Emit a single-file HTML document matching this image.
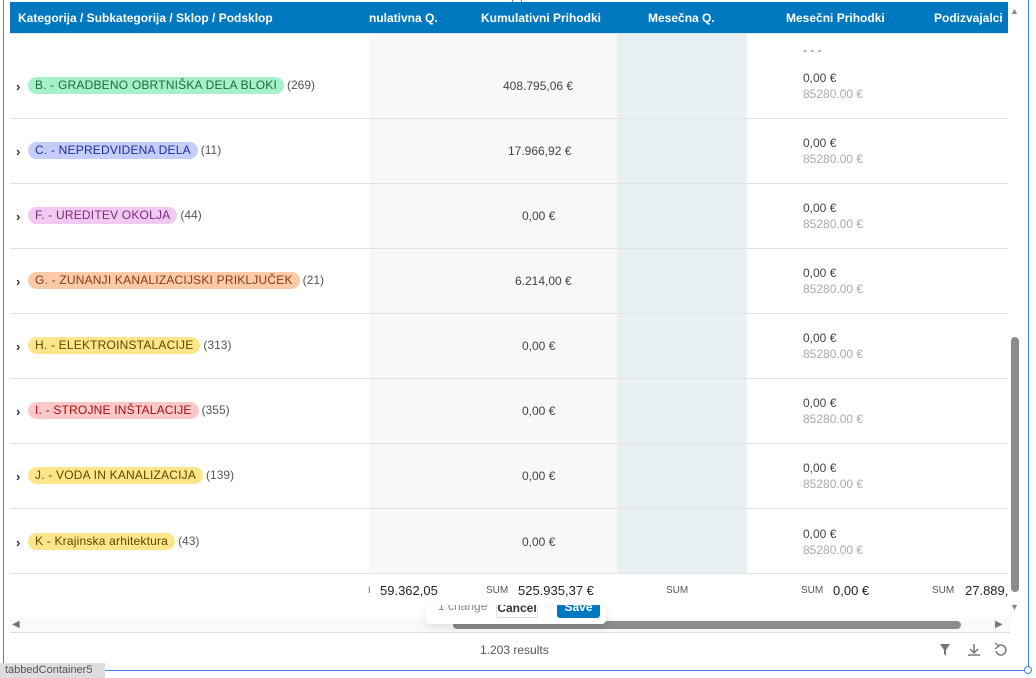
<!DOCTYPE html>
<html><head><meta charset="utf-8"><style>
*{margin:0;padding:0;box-sizing:border-box}
body{width:1036px;height:678px;background:#fff;font-family:"Liberation Sans",sans-serif;position:relative;overflow:hidden;color:#333}
.a{position:absolute}
.hd{background:#0078bf;color:#fff;font-weight:bold;font-size:12px}
.row{position:absolute;left:10px;width:998px;height:65px;border-bottom:1px solid #e2e2e2}
.lab{position:absolute;left:28px;white-space:nowrap;font-size:12px;line-height:17px}
.badge{display:inline-block;height:17px;border-radius:9px;font-size:12px;line-height:17px;padding:0 7px;letter-spacing:0.2px}
.cnt{font-size:12px;color:#555;margin-left:3px}
.val{font-size:12px;color:#444}
.sub{font-size:12px;color:#aaa}
.chev{position:absolute;left:16px;font-size:13px;font-weight:bold;color:#333;line-height:13px}
</style></head><body>
<div class="a" style="left:3px;top:0;width:1026px;height:671px;border:1px solid #3b82f6;border-top:none"></div>
<div class="a" style="left:0;top:663px;width:105px;height:15px;background:#ddd;font-size:11px;color:#555;line-height:15px;padding-left:5px">tabbedContainer5</div>
<div class="a" style="left:1024px;top:666px;width:8px;height:8px;border:1px solid #3b82f6;border-radius:50%;background:#fff"></div>
<div class="a" style="left:512px;top:-4px;width:10px;height:10px;border:1px solid #3b82f6;border-radius:50%;background:#fff"></div>

<div class="a" style="left:369px;top:33px;width:248px;height:540px;background:#f8f8f8"></div>
<div class="a" style="left:617px;top:33px;width:130px;height:540px;background:#e9f0f4"></div>

<div class="a hd" style="left:10px;top:2px;width:998px;height:31px"></div>
<div class="a hd" style="left:18px;top:11px;background:none">Kategorija / Subkategorija / Sklop / Podsklop</div>
<div class="a hd" style="left:369px;top:11px;background:none">nulativna Q.</div>
<div class="a hd" style="left:481px;top:11px;background:none">Kumulativni Prihodki</div>
<div class="a hd" style="left:648px;top:11px;background:none">Mesečna Q.</div>
<div class="a hd" style="left:786px;top:11px;background:none">Mesečni Prihodki</div>
<div class="a hd" style="left:934px;top:11px;background:none">Podizvajalci</div>
<div class="a" style="left:10px;top:33px;width:998px;height:1px;background:#dfe6ea"></div>

<div class="a sub" style="left:803px;top:43px;color:#666">- - -</div>

<div class="row" style="top:33px;height:86px"></div>
<div class="chev" style="top:80px">›</div>
<div class="lab" style="top:77px"><span class="badge" style="background:#a7f0c9;color:#1d6b40">B. - GRADBENO OBRTNIŠKA DELA BLOKI</span><span class="cnt">(269)</span></div>
<div class="a val" style="left:503px;top:79px">408.795,06 €</div>
<div class="a val" style="left:803px;top:71px">0,00 €</div><div class="a sub" style="left:803px;top:87px">85280.00 €</div>

<div class="row" style="top:119px"></div>
<div class="chev" style="top:145px">›</div>
<div class="lab" style="top:142px"><span class="badge" style="background:#c7cdfa;color:#1e2f9e">C. - NEPREDVIDENA DELA</span><span class="cnt">(11)</span></div>
<div class="a val" style="left:508px;top:144px">17.966,92 €</div>
<div class="a val" style="left:803px;top:136px">0,00 €</div><div class="a sub" style="left:803px;top:152px">85280.00 €</div>

<div class="row" style="top:184px"></div>
<div class="chev" style="top:210px">›</div>
<div class="lab" style="top:207px"><span class="badge" style="background:#f1c9f1;color:#7a2a7a">F. - UREDITEV OKOLJA</span><span class="cnt">(44)</span></div>
<div class="a val" style="left:522px;top:209px">0,00 €</div>
<div class="a val" style="left:803px;top:201px">0,00 €</div><div class="a sub" style="left:803px;top:217px">85280.00 €</div>

<div class="row" style="top:249px"></div>
<div class="chev" style="top:275px">›</div>
<div class="lab" style="top:272px"><span class="badge" style="background:#fbcba9;color:#8a3b10">G. - ZUNANJI KANALIZACIJSKI PRIKLJUČEK</span><span class="cnt">(21)</span></div>
<div class="a val" style="left:515px;top:274px">6.214,00 €</div>
<div class="a val" style="left:803px;top:266px">0,00 €</div><div class="a sub" style="left:803px;top:282px">85280.00 €</div>

<div class="row" style="top:314px"></div>
<div class="chev" style="top:340px">›</div>
<div class="lab" style="top:337px"><span class="badge" style="background:#fde68a;color:#5e4600">H. - ELEKTROINSTALACIJE</span><span class="cnt">(313)</span></div>
<div class="a val" style="left:522px;top:339px">0,00 €</div>
<div class="a val" style="left:803px;top:331px">0,00 €</div><div class="a sub" style="left:803px;top:347px">85280.00 €</div>

<div class="row" style="top:379px"></div>
<div class="chev" style="top:405px">›</div>
<div class="lab" style="top:402px"><span class="badge" style="background:#fec8c8;color:#a10f0f">I. - STROJNE INŠTALACIJE</span><span class="cnt">(355)</span></div>
<div class="a val" style="left:522px;top:404px">0,00 €</div>
<div class="a val" style="left:803px;top:396px">0,00 €</div><div class="a sub" style="left:803px;top:412px">85280.00 €</div>

<div class="row" style="top:444px"></div>
<div class="chev" style="top:470px">›</div>
<div class="lab" style="top:467px"><span class="badge" style="background:#fde68a;color:#5e4600">J. - VODA IN KANALIZACIJA</span><span class="cnt">(139)</span></div>
<div class="a val" style="left:522px;top:469px">0,00 €</div>
<div class="a val" style="left:803px;top:461px">0,00 €</div><div class="a sub" style="left:803px;top:477px">85280.00 €</div>

<div class="row" style="top:509px"></div>
<div class="chev" style="top:536px">›</div>
<div class="lab" style="top:533px"><span class="badge" style="background:#fde68a;color:#5e4600">K - Krajinska arhitektura</span><span class="cnt">(43)</span></div>
<div class="a val" style="left:522px;top:535px">0,00 €</div>
<div class="a val" style="left:803px;top:527px">0,00 €</div><div class="a sub" style="left:803px;top:543px">85280.00 €</div>

<div class="a" style="left:10px;top:574px;width:998px;height:32px;background:#fff"></div>
<div class="a" style="left:368px;top:585px;font-size:9px;color:#666">I</div>
<div class="a" style="left:380px;top:583px;font-size:13px;color:#222">59.362,05</div>
<div class="a" style="left:486px;top:585px;font-size:10px;color:#555">SUM</div>
<div class="a" style="left:518px;top:583px;font-size:13px;color:#222">525.935,37 €</div>
<div class="a" style="left:666px;top:585px;font-size:10px;color:#555">SUM</div>
<div class="a" style="left:801px;top:585px;font-size:10px;color:#555">SUM</div>
<div class="a" style="left:833px;top:583px;font-size:13px;color:#222">0,00 €</div>
<div class="a" style="left:932px;top:585px;font-size:10px;color:#555">SUM</div>
<div class="a" style="left:965px;top:583px;font-size:13px;color:#222">27.889,.</div>

<div class="a" style="left:10px;top:618px;width:1000px;height:14px;background:#fafafa"></div>
<div class="a" style="left:453px;top:621px;width:508px;height:8px;background:#8c8c8c;border-radius:4px"></div>
<div class="a" style="left:12px;top:619px;font-size:10px;color:#777">◀</div>
<div class="a" style="left:995px;top:619px;font-size:10px;color:#777">▶</div>
<div class="a" style="left:10px;top:632px;width:1000px;height:1px;background:#ddd"></div>

<div class="a" style="left:426px;top:605px;width:180px;height:19px;background:#fff;border-radius:0 0 4px 4px;box-shadow:0 4px 8px rgba(0,0,0,0.1);overflow:hidden">
<div class="a" style="left:12px;top:-6px;font-size:12px;color:#888">1 change</div>
<div class="a" style="left:70px;top:-6px;width:42px;height:19px;border:1px solid #ddd;border-radius:3px;font-size:12px;font-weight:bold;text-align:center;line-height:17px">Cancel</div>
<div class="a" style="left:131px;top:-6px;width:43px;height:19px;background:#0078bf;border-radius:3px;font-size:12px;font-weight:bold;color:#fff;text-align:center;line-height:17px">Save</div>
</div>

<div class="a" style="left:1008px;top:2px;width:14px;height:614px;background:#fff"></div>
<div class="a" style="left:1010px;top:6px;font-size:9px;color:#888">▲</div>
<div class="a" style="left:1011px;top:337px;width:8px;height:255px;background:#8c8c8c;border-radius:4px"></div>
<div class="a" style="left:1010px;top:602px;font-size:9px;color:#888">▼</div>

<div class="a" style="left:480px;top:643px;font-size:12px;color:#555">1.203 results</div>
<svg class="a" style="left:938px;top:642px" width="70" height="16">
<path d="M2 2 L12 2 L8 8 L8 14 L6 12 L6 8 Z" fill="#777"/>
<path d="M36 2 L36 10 M32 7 L36 11 L40 7 M30 13 L42 13" stroke="#777" stroke-width="1.5" fill="none"/>
<path d="M60 4 A5 5 0 1 1 58 9" stroke="#777" stroke-width="1.5" fill="none"/><path d="M57 1 L61 4 L57 7" stroke="#777" stroke-width="1.3" fill="none"/>
</svg>
</body></html>
